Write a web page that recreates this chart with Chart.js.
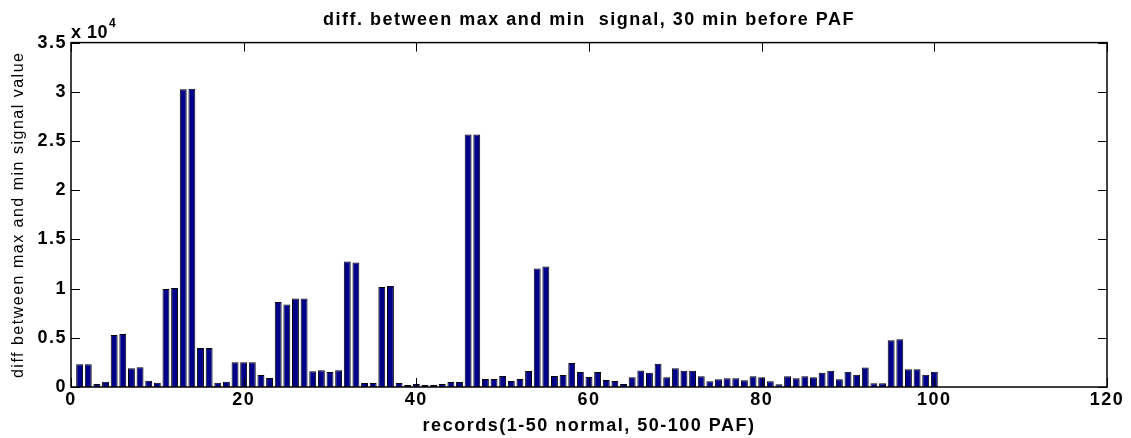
<!DOCTYPE html>
<html>
<head>
<meta charset="utf-8">
<script src="https://cdn.jsdelivr.net/npm/chart.js@4/dist/chart.umd.min.js"></script>
<style>
  html, body { margin: 0; padding: 0; background: #fff; }
  #wrap { width: 1131px; height: 438px; }
</style>
</head>
<body>
<div id="wrap"><canvas id="diff-chart" width="1131" height="438"></canvas></div>
<script>
// values, records 1..100
const diffValues = [
    2300, 2300, 300, 540, 5290, 5390, 1900, 2000, 640, 440,
    9970, 10070, 30250, 30320, 3970, 3970, 440, 540, 2510, 2510,
    2510, 1220, 920, 8650, 8380, 8990, 8990, 1590, 1700, 1530,
    1700, 12750, 12650, 410, 410, 10170, 10270, 410, 200, 300,
    200, 200, 300, 510, 510, 25670, 25670, 810, 810, 1120,
    610, 810, 1630, 12040, 12240, 1120, 1220, 2440, 1530, 1020,
    1530, 710, 610, 300, 1000, 1680, 1460, 2370, 980, 1900,
    1660, 1660, 1090, 580, 780, 880, 880, 680, 1090, 980,
    580, 270, 1090, 880, 1090, 980, 1460, 1660, 780, 1560,
    1250, 1970, 370, 370, 4750, 4850, 1800, 1800, 1250, 1560
];
const records = diffValues.map((v, i) => i + 1);
const xTicks = [0, 20, 40, 60, 80, 100, 120];
const yTicks = [0, 5000, 10000, 15000, 20000, 25000, 30000, 35000];

const fontFamily = '"Liberation Sans", Arial, sans-serif';
const spacing = '1.5px';

// matlab draws its text a bit loose, so widen every label
const looseText = {
    id: 'looseText',
    beforeLayout(chart) { chart.ctx.letterSpacing = spacing; },
    beforeDraw(chart) { chart.ctx.letterSpacing = spacing; }
};

// matlab style: box round the axes, ticks pointing inwards, "x 10^4" multiplier
const matlabAxes = {
    id: 'matlabAxes',
    afterDraw(chart) {
        const ctx = chart.ctx;
        const area = chart.chartArea;
        const xs = chart.scales.x;
        const ys = chart.scales.y;
        const tl = 9;
        ctx.save();
        ctx.strokeStyle = '#000';
        ctx.lineWidth = 1;
        ctx.beginPath();
        xTicks.forEach(t => {
            const px = Math.round(xs.getPixelForValue(t)) + 0.5;
            ctx.moveTo(px, area.bottom); ctx.lineTo(px, area.bottom - tl);
            ctx.moveTo(px, area.top); ctx.lineTo(px, area.top + tl);
        });
        yTicks.forEach(t => {
            const py = Math.round(ys.getPixelForValue(t)) + 0.5;
            ctx.moveTo(area.left, py); ctx.lineTo(area.left + tl, py);
            ctx.moveTo(area.right, py); ctx.lineTo(area.right - tl, py);
        });
        ctx.stroke();
        ctx.lineWidth = 1.5;
        ctx.strokeRect(area.left, area.top, area.right - area.left, area.bottom - area.top);

        ctx.fillStyle = '#000';
        ctx.textBaseline = 'alphabetic';
        ctx.textAlign = 'left';
        ctx.letterSpacing = '0.5px';
        ctx.font = 'bold 18px ' + fontFamily;
        ctx.fillText('x 10', area.left, area.top - 5);
        const w = ctx.measureText('x 10').width;
        ctx.font = 'bold 12px ' + fontFamily;
        ctx.fillText('4', area.left + 1 + w, area.top - 16);
        ctx.restore();
    }
};

const diffChart = new Chart(document.getElementById('diff-chart'), {
    type: 'bar',
    data: {
        datasets: [
            {
                label: 'diff',
                data: records.map((r, i) => ({x: r, y: diffValues[i]})),
                backgroundColor: '#000088',
                borderColor: '#000000',
                borderWidth: 1,
                borderSkipped: 'bottom',
                barPercentage: 0.8,
                categoryPercentage: 1.0,
            },
        ]
    },
    options: {
        responsive: false,
        animation: false,
        layout: {
            padding: {left: 0, right: 24, top: 0, bottom: 0}
        },
        plugins: {
            legend: {display: false},
            tooltip: {enabled: false},
            title: {
                display: true,
                fullSize: false,
                text: 'diff. between max and min  signal, 30 min before PAF',
                color: '#000',
                font: {family: fontFamily, size: 18, weight: 'bold', lineHeight: 1.2},
                padding: {top: 9, bottom: 12}
            }
        },
        scales: {
            x: {
                type: 'linear',
                min: 0,
                max: 120,
                offset: false,
                afterFit(scale) { scale.height = 51; },
                afterBuildTicks(scale) { scale.ticks = xTicks.map(v => ({value: v})); },
                grid: {display: false, drawTicks: false, offset: false},
                border: {display: false},
                ticks: {
                    color: '#000',
                    padding: 2,
                    maxRotation: 0,
                    font: {family: fontFamily, size: 18, weight: 'bold'}
                },
                title: {
                    display: true,
                    text: 'records(1-50 normal, 50-100 PAF)',
                    color: '#000',
                    font: {family: fontFamily, size: 18, weight: 'bold'},
                    padding: {top: 0, bottom: 1}
                }
            },
            y: {
                min: 0,
                max: 35000,
                afterFit(scale) { scale.width = 71; },
                afterBuildTicks(scale) { scale.ticks = yTicks.map(v => ({value: v})); },
                grid: {display: false, drawTicks: false},
                border: {display: false},
                ticks: {
                    color: '#000',
                    padding: 4,
                    font: {family: fontFamily, size: 18, weight: 'bold'},
                    callback: (v) => String(v / 10000)
                },
                title: {
                    display: true,
                    text: 'diff between max and min signal value',
                    color: '#000',
                    font: {family: fontFamily, size: 16, weight: 'normal'},
                    padding: {top: 9, bottom: 0}
                }
            }
        }
    },
    plugins: [looseText, matlabAxes]
});
</script>
</body>
</html>
